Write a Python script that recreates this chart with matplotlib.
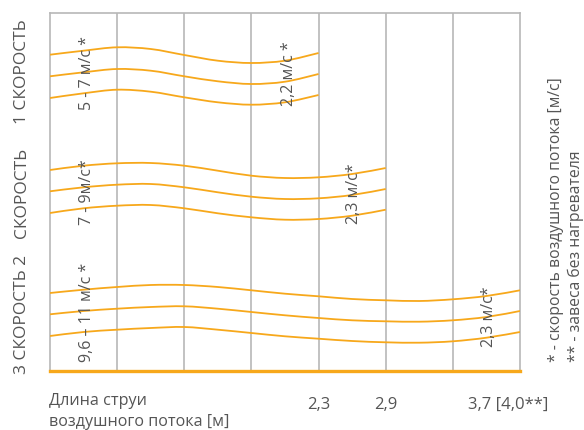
"""Air curtain jet length chart (3 fan speeds)."""
import matplotlib
matplotlib.use("Agg")
import matplotlib.pyplot as plt
from matplotlib.path import Path
from matplotlib.patches import PathPatch

plt.rcParams["font.family"] = ["Open Sans", "DejaVu Sans"]

ORANGE = "#F7A81B"
GRID = "#B8B8B8"
TXT = "#555555"

# x positions in grid columns (one column = one vertical grid step)
cols_1 = [0, 0.5, 1, 1.5, 2, 2.5, 3, 3.5, 4]
cols_2 = [0, 0.5, 1, 1.5, 2, 2.5, 3, 3.5, 4, 4.5, 5]
cols_3 = [0, 0.5, 1, 1.5, 2, 2.5, 3, 3.5, 4, 4.5, 5, 5.5, 6, 6.5, 7]

# speed 1 (5 - 7 m/s -> 2,2 m/s), vertical position in px from top
speed1_top = [55.7, 51.7, 48.3, 50.0, 56.0, 61.7, 64.0, 61.7, 54.0]
speed1_mid = [77.3, 73.3, 70.0, 71.7, 77.3, 82.3, 85.0, 82.7, 75.0]
speed1_bot = [99.0, 94.3, 90.7, 92.7, 98.3, 103.3, 105.7, 103.3, 96.0]

# speed 2 (7 - 9 m/s -> 2,3 m/s)
speed2_top = [171.0, 166.7, 164.3, 164.0, 166.7, 171.7, 176.7, 179.0, 178.3, 175.0, 169.0]
speed2_mid = [192.3, 188.3, 185.7, 185.0, 188.3, 193.3, 197.7, 200.0, 199.3, 196.0, 190.0]
speed2_bot = [214.0, 209.3, 206.7, 206.0, 209.3, 214.3, 218.3, 220.7, 220.0, 216.7, 210.7]

# speed 3 (9,6 - 11 m/s -> 2,3 m/s)
speed3_top = [294.0, 290.7, 288.0, 286.0, 286.0, 288.0, 291.3, 294.7, 297.3, 300.0,
              301.3, 302.0, 300.3, 297.0, 291.3]
speed3_mid = [315.3, 312.0, 309.7, 308.0, 307.3, 309.7, 313.0, 316.3, 319.0, 321.3,
              322.3, 322.7, 321.3, 318.0, 312.0]
speed3_bot = [337.0, 333.0, 330.7, 329.0, 328.0, 330.7, 334.0, 337.3, 339.7, 342.0,
              343.3, 343.7, 342.3, 338.7, 333.0]

tick_cols = [4, 5, 7]
tick_labels = ["2,3", "2,9", "3,7 [4,0**]"]

speed_labels = ["1 СКОРОСТЬ", "СКОРОСТЬ", "3 СКОРОСТЬ 2"]
start_labels = ["5 - 7 м/с *", "7 - 9м/с*", "9,6 – 11 м/с *"]
end_labels = ["2,2 м/с *", "2,3 м/с*", "2,3 м/с*"]


def smooth_path(xs, ys):
    # Catmull-Rom through the read points, drawn as cubic Bezier segments
    verts = [(xs[0], ys[0])]
    codes = [Path.MOVETO]
    n = len(xs)
    for i in range(n - 1):
        x0, y0 = (xs[i - 1], ys[i - 1]) if i > 0 else (xs[i], ys[i])
        x1, y1 = xs[i], ys[i]
        x2, y2 = xs[i + 1], ys[i + 1]
        x3, y3 = (xs[i + 2], ys[i + 2]) if i + 2 < n else (x2, y2)
        c1 = (x1 + (x2 - x0) / 6, y1 + (y2 - y0) / 6)
        c2 = (x2 - (x3 - x1) / 6, y2 - (y3 - y1) / 6)
        verts += [c1, c2, (x2, y2)]
        codes += [Path.CURVE4] * 3
    return Path(verts, codes)


W, H = 584, 431
fig = plt.figure(figsize=(W / 100, H / 100), dpi=100)
# plot box: px 50..520 horizontally, 14..372 vertically
ax = fig.add_axes([50 / W, (H - 372) / H, 470 / W, 358 / H])
ax.set_xlim(0, 7)
ax.set_ylim(372, 14)
ax.set_xticks([])
ax.set_yticks([])
for s in ["left", "right", "top"]:
    ax.spines[s].set_color(GRID)
    ax.spines[s].set_linewidth(1.2)
ax.spines["bottom"].set_color(ORANGE)
ax.spines["bottom"].set_linewidth(2.4)
ax.spines["bottom"].set_zorder(5)

for c in range(1, 7):
    ax.axvline(c, color=GRID, lw=1.2, zorder=1)

groups = [
    (cols_1, [speed1_top, speed1_mid, speed1_bot]),
    (cols_2, [speed2_top, speed2_mid, speed2_bot]),
    (cols_3, [speed3_top, speed3_mid, speed3_bot]),
]
for xs, lines in groups:
    for ys in lines:
        ax.add_patch(PathPatch(smooth_path(xs, ys), facecolor="none",
                               edgecolor=ORANGE, lw=1.3, zorder=3, capstyle="butt"))


# px -> column helper for text placement
def cx(px):
    return (px - 50) / 67.0


kw = dict(color=TXT, rotation=90, ha="center", va="center", clip_on=False)
for lab, yc in zip(speed_labels, [72, 193, 314]):
    ax.text(cx(22), yc, lab, fontsize=12.5, **kw)

for lab, yc in zip(start_labels, [73, 192, 312]):
    ax.text(cx(87), yc, lab, fontsize=11.5, **kw)

for lab, xc, yc in zip(end_labels, [288, 353, 488], [74, 194, 317]):
    ax.text(cx(xc), yc, lab, fontsize=11.5, **kw)

# x-axis annotations
ax.text(cx(49), 401, "Длина струи", color=TXT, fontsize=11.6, ha="left", va="center", clip_on=False)
ax.text(cx(49), 422, "воздушного потока [м]", color=TXT, fontsize=11.6, ha="left", va="center", clip_on=False)
for c, lab in zip(tick_cols, tick_labels):
    if c == 7:
        ax.text(cx(467), 405, lab, color=TXT, fontsize=12, ha="left", va="center", clip_on=False)
    else:
        ax.text(c, 405, lab, color=TXT, fontsize=12, ha="center", va="center", clip_on=False)

# footnotes
ax.text(cx(555), 362, "* - скорость воздушного потока [м/с]", color=TXT, fontsize=11.3,
        rotation=90, ha="center", va="bottom", clip_on=False)
ax.text(cx(575), 362, "** - завеса без нагревателя", color=TXT, fontsize=11.3,
        rotation=90, ha="center", va="bottom", clip_on=False)

fig.savefig("out.png", dpi=100)
